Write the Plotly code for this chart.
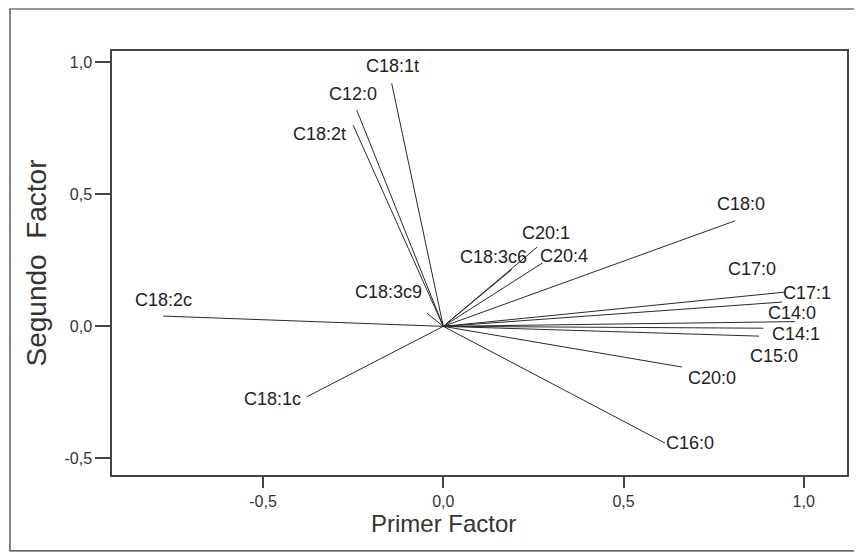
import plotly.graph_objects as go

# ---- data (loadings) ----
variables = ["C18:1t", "C12:0", "C18:2t", "C18:2c", "C18:3c9", "C18:1c",
             "C18:3c6", "C20:1", "C20:4", "C18:0", "C17:0", "C17:1",
             "C14:0", "C14:1", "C15:0", "C20:0", "C16:0"]
factor1 = [-0.143, -0.240, -0.250, -0.777, -0.045, -0.379,
           0.190, 0.260, 0.275, 0.810, 0.950, 0.940,
           0.976, 0.888, 0.876, 0.662, 0.615]
factor2 = [0.920, 0.819, 0.762, 0.039, 0.050, -0.267,
           0.215, 0.300, 0.240, 0.400, 0.130, 0.092,
           0.018, -0.007, -0.037, -0.154, -0.442]

x_ticks = [-0.5, 0.0, 0.5, 1.0]
x_tick_text = ["-0,5", "0,0", "0,5", "1,0"]
y_ticks = [-0.5, 0.0, 0.5, 1.0]
y_tick_text = ["-0,5", "0,0", "0,5", "1,0"]

# label placement (layout only)
label_x = [-0.140, -0.250, -0.342, -0.777, -0.153, -0.475,
           0.140, 0.285, 0.335, 0.826, 0.856, 1.010,
           0.967, 0.978, 0.917, 0.745, 0.685]
label_y = [0.986, 0.880, 0.728, 0.100, 0.130, -0.276,
           0.262, 0.353, 0.266, 0.463, 0.217, 0.126,
           0.052, -0.029, -0.112, -0.196, -0.443]

FONT = "Liberation Sans, Arial"

fig = go.Figure()
for name, fx, fy in zip(variables, factor1, factor2):
    fig.add_trace(go.Scatter(
        x=[0, fx], y=[0, fy], mode="lines", name=name,
        line=dict(color="#2a2a2a", width=1), showlegend=False,
        hoverinfo="text", text=[name, name]))

for name, lx, ly in zip(variables, label_x, label_y):
    fig.add_annotation(x=lx, y=ly, text=name, showarrow=False,
                       font=dict(family=FONT, size=18, color="#222"))

# x-axis title (centred under 0,0 as in the original)
fig.add_annotation(x=0, xref="x", y=0, yref="paper", yanchor="middle",
                   yshift=-48, text="Primer Factor", showarrow=False,
                   font=dict(family=FONT, size=24, color="#333"))

# outer frame around the whole figure
fig.add_shape(type="rect", xref="paper", yref="paper",
              x0=-0.1388, x1=1.0109, y0=-0.179, y1=1.099,
              line=dict(color="#333", width=1.2), fillcolor="rgba(0,0,0,0)", layer="below")

axis_common = dict(showgrid=False, zeroline=False, showline=True, mirror=True,
                   linecolor="#444", linewidth=1.5, ticks="outside",
                   tickcolor="#444", tickwidth=1.5,
                   tickfont=dict(family=FONT, size=16, color="#333"))

fig.update_layout(
    width=862, height=559,
    margin=dict(l=104, r=23, t=43, b=92),
    paper_bgcolor="white", plot_bgcolor="white",
    xaxis=dict(range=[-0.919, 1.120], tickvals=x_ticks, ticktext=x_tick_text,
               ticklen=11, **axis_common),
    yaxis=dict(range=[-0.563, 1.043], tickvals=y_ticks, ticktext=y_tick_text,
               ticklen=15,
               title=dict(text="Segundo  Factor", standoff=10,
                          font=dict(family=FONT, size=28, color="#333")),
               **axis_common),
)

fig.write_html("out.html")
